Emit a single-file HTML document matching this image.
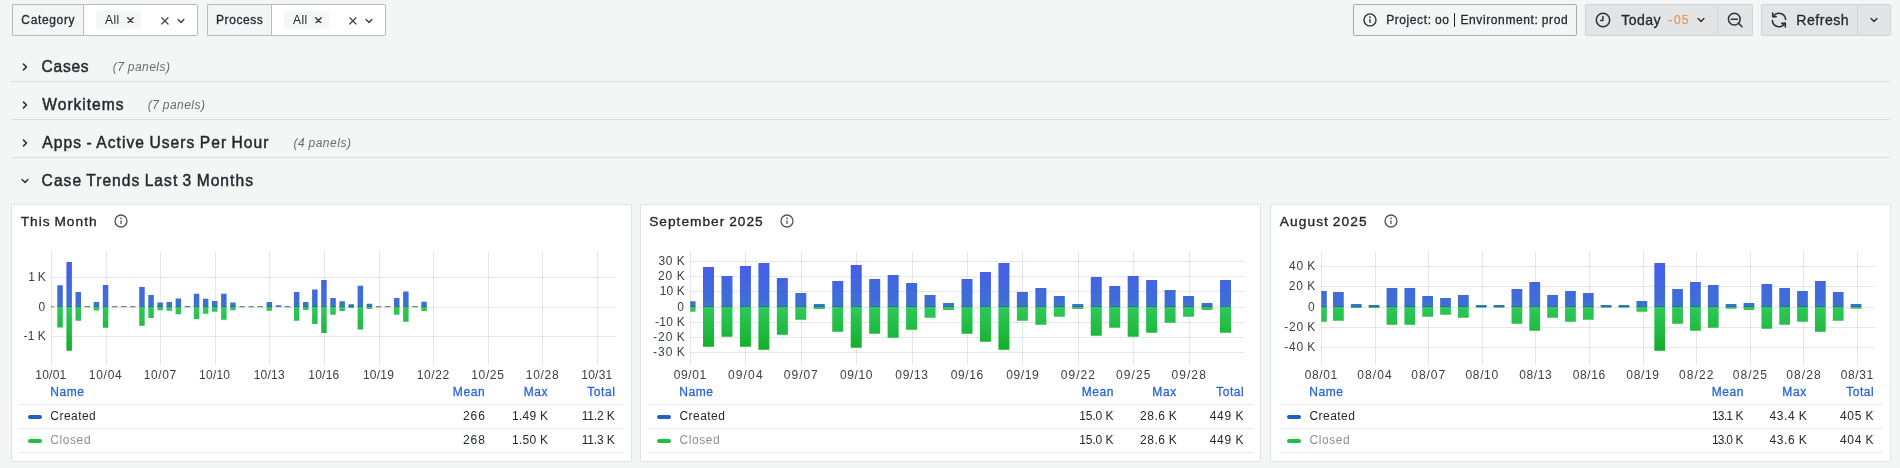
<!DOCTYPE html>
<html lang="en"><head><meta charset="utf-8"><title>Dashboard</title>
<style>
html,body{margin:0;padding:0;}
body{width:1900px;height:468px;overflow:hidden;background:#f4f5f5;font-family:"Liberation Sans",sans-serif;color:#24292e;position:relative;}
*{box-sizing:border-box;}
.abs{position:absolute;}
.box{position:absolute;top:4px;height:32px;border:1px solid #b9bbbd;border-radius:2px;background:#fff;}
.lab{position:absolute;top:4px;height:32px;border:1px solid #b9bbbd;border-right:none;border-radius:2px 0 0 2px;background:#f4f5f5;}
.pill{position:absolute;top:11px;height:18px;background:#f5f6f6;border-radius:2px;}
.btn{position:absolute;top:4px;height:32px;background:#e3e4e5;border:1px solid #d3d4d6;border-radius:2px;}
.row{position:absolute;left:11px;width:1879px;height:31px;border-bottom:1px solid #dcddde;}
.panel{position:absolute;top:204px;height:258px;background:#fff;border:1px solid #e3e4e5;border-radius:1px;}
.lline{position:absolute;height:1px;background:#e6e7e8;}
.sw{position:absolute;width:14px;height:4.4px;border-radius:2.2px;}
svg text{white-space:pre;}
</style></head><body>

<div class="lab" style="left:12px;width:72px"></div>
<div class="box" style="left:83px;width:115px;border-radius:0 2px 2px 0"></div>
<div class="pill" style="left:96px;width:45px"></div>
<svg class="abs" style="left:126.65px;top:16.55px" width="6.9" height="6.9" viewBox="0 0 10 10"><path d="M1 1L9 9M9 1L1 9" stroke="#2e3338" stroke-width="1.9" fill="none" stroke-linecap="round"/></svg>
<svg class="abs" style="left:161.1px;top:17.4px" width="7.8" height="7.8" viewBox="0 0 10 10"><path d="M1 1L9 9M9 1L1 9" stroke="#3d4247" stroke-width="1.5" fill="none" stroke-linecap="round"/></svg>
<svg class="abs" style="left:175.30px;top:15.00px" width="12" height="12" viewBox="-6 -6 12 12"><path d="M-2.90 -1.50L0 1.50L2.90 -1.50" stroke="#3d4247" stroke-width="1.35" fill="none" stroke-linecap="round" stroke-linejoin="round"/></svg>
<div class="lab" style="left:207px;width:65px"></div>
<div class="box" style="left:271px;width:115px;border-radius:0 2px 2px 0"></div>
<div class="pill" style="left:284px;width:45px"></div>
<svg class="abs" style="left:314.65px;top:16.55px" width="6.9" height="6.9" viewBox="0 0 10 10"><path d="M1 1L9 9M9 1L1 9" stroke="#2e3338" stroke-width="1.9" fill="none" stroke-linecap="round"/></svg>
<svg class="abs" style="left:349.1px;top:17.4px" width="7.8" height="7.8" viewBox="0 0 10 10"><path d="M1 1L9 9M9 1L1 9" stroke="#3d4247" stroke-width="1.5" fill="none" stroke-linecap="round"/></svg>
<svg class="abs" style="left:363.30px;top:15.00px" width="12" height="12" viewBox="-6 -6 12 12"><path d="M-2.90 -1.50L0 1.50L2.90 -1.50" stroke="#3d4247" stroke-width="1.35" fill="none" stroke-linecap="round" stroke-linejoin="round"/></svg>
<div class="box" style="left:1353px;width:224px;background:#f4f5f5;border-color:#a9abad"></div>
<svg class="abs" style="left:1362px;top:12px" viewBox="0 0 16 16" width="16" height="16"><circle cx="8" cy="7.9" r="6" fill="none" stroke="#2e3338" stroke-width="1.4"/><rect x="7.3" y="7.1" width="1.4" height="3.8" rx="0.6" fill="#2e3338"/><circle cx="8" cy="5.2" r="0.9" fill="#2e3338"/></svg>
<div class="abs" style="left:1454px;top:12.5px;width:1.3px;height:14.2px;background:#24292e"></div>
<div class="btn" style="left:1585px;width:133px;border-radius:2px 0 0 2px"></div>
<div class="btn" style="left:1717px;width:36px;border-radius:0 2px 2px 0"></div>
<svg class="abs" style="left:1594.9px;top:11.8px" viewBox="0 0 16 16" width="16" height="16"><circle cx="8" cy="8" r="6.7" fill="none" stroke="#2e3338" stroke-width="1.5"/><path d="M7.9 4.6V8.4H5.6" fill="none" stroke="#2e3338" stroke-width="1.5" stroke-linecap="round" stroke-linejoin="round"/></svg>
<svg class="abs" style="left:1695.20px;top:14.40px" width="12" height="12" viewBox="-6 -6 12 12"><path d="M-2.90 -1.50L0 1.50L2.90 -1.50" stroke="#2e3338" stroke-width="1.45" fill="none" stroke-linecap="round" stroke-linejoin="round"/></svg>
<svg class="abs" style="left:1726px;top:11px" viewBox="0 0 18 18" width="18" height="18"><circle cx="8.3" cy="8.1" r="5.9" fill="none" stroke="#2e3338" stroke-width="1.5"/><path d="M5.2 8.3H11.5M12.8 12.6L16 15.8" fill="none" stroke="#2e3338" stroke-width="1.5" stroke-linecap="round"/></svg>
<div class="btn" style="left:1761px;width:97px;border-radius:2px 0 0 2px"></div>
<div class="btn" style="left:1857px;width:34px;border-radius:0 2px 2px 0"></div>
<svg class="abs" style="left:1770px;top:11px" viewBox="0 0 18 18" width="18" height="18"><path d="M3.2 5.8A6.6 6.6 0 0 1 15.6 8.4 M14.8 12.2A6.6 6.6 0 0 1 2.4 9.6" fill="none" stroke="#2e3338" stroke-width="1.6" stroke-linecap="round"/><path d="M2.7 2.1V5.6H6.2 M15.3 15.9V12.4H11.8" fill="none" stroke="#2e3338" stroke-width="1.6" stroke-linecap="round" stroke-linejoin="round"/></svg>
<svg class="abs" style="left:1867.90px;top:13.80px" width="12" height="12" viewBox="-6 -6 12 12"><path d="M-2.90 -1.50L0 1.50L2.90 -1.50" stroke="#2e3338" stroke-width="1.45" fill="none" stroke-linecap="round" stroke-linejoin="round"/></svg>
<div class="row" style="top:51px"></div>
<svg class="abs" style="left:19.10px;top:60.90px" width="12" height="12" viewBox="-6 -6 12 12"><path d="M-1.50 -2.90L1.50 0L-1.50 2.90" stroke="#2e3338" stroke-width="1.65" fill="none" stroke-linecap="round" stroke-linejoin="round"/></svg>
<div class="row" style="top:89px"></div>
<svg class="abs" style="left:19.10px;top:98.90px" width="12" height="12" viewBox="-6 -6 12 12"><path d="M-1.50 -2.90L1.50 0L-1.50 2.90" stroke="#2e3338" stroke-width="1.65" fill="none" stroke-linecap="round" stroke-linejoin="round"/></svg>
<div class="row" style="top:127px"></div>
<svg class="abs" style="left:19.10px;top:136.90px" width="12" height="12" viewBox="-6 -6 12 12"><path d="M-1.50 -2.90L1.50 0L-1.50 2.90" stroke="#2e3338" stroke-width="1.65" fill="none" stroke-linecap="round" stroke-linejoin="round"/></svg>
<svg class="abs" style="left:19.00px;top:174.80px" width="12" height="12" viewBox="-6 -6 12 12"><path d="M-2.90 -1.50L0 1.50L2.90 -1.50" stroke="#2e3338" stroke-width="1.45" fill="none" stroke-linecap="round" stroke-linejoin="round"/></svg>
<div class="panel" style="left:11px;width:621px"></div>
<svg class="abs" style="left:113.1px;top:212.7px" viewBox="0 0 16 16" width="16" height="16"><circle cx="8" cy="8" r="6" fill="none" stroke="#50545a" stroke-width="1.3"/><rect x="7.35" y="7.2" width="1.3" height="3.8" rx="0.6" fill="#50545a"/><circle cx="8" cy="5.3" r="0.85" fill="#50545a"/></svg>
<div class="lline" style="left:20px;top:404px;width:604px"></div>
<div class="lline" style="left:20px;top:428px;width:604px"></div>
<div class="lline" style="left:20px;top:452px;width:604px"></div>
<div class="sw" style="left:28.2px;top:414.9px;background:#1f60c4"></div>
<div class="sw" style="left:28.2px;top:438.9px;background:#1fbf45"></div>
<div class="panel" style="left:640px;width:621px"></div>
<svg class="abs" style="left:779.1px;top:212.7px" viewBox="0 0 16 16" width="16" height="16"><circle cx="8" cy="8" r="6" fill="none" stroke="#50545a" stroke-width="1.3"/><rect x="7.35" y="7.2" width="1.3" height="3.8" rx="0.6" fill="#50545a"/><circle cx="8" cy="5.3" r="0.85" fill="#50545a"/></svg>
<div class="lline" style="left:648px;top:404px;width:605px"></div>
<div class="lline" style="left:648px;top:428px;width:605px"></div>
<div class="lline" style="left:648px;top:452px;width:605px"></div>
<div class="sw" style="left:657.3px;top:414.9px;background:#1f60c4"></div>
<div class="sw" style="left:657.3px;top:438.9px;background:#1fbf45"></div>
<div class="panel" style="left:1270px;width:621px"></div>
<svg class="abs" style="left:1383.2px;top:212.7px" viewBox="0 0 16 16" width="16" height="16"><circle cx="8" cy="8" r="6" fill="none" stroke="#50545a" stroke-width="1.3"/><rect x="7.35" y="7.2" width="1.3" height="3.8" rx="0.6" fill="#50545a"/><circle cx="8" cy="5.3" r="0.85" fill="#50545a"/></svg>
<div class="lline" style="left:1280px;top:404px;width:603px"></div>
<div class="lline" style="left:1280px;top:428px;width:603px"></div>
<div class="lline" style="left:1280px;top:452px;width:603px"></div>
<div class="sw" style="left:1287.3px;top:414.9px;background:#1f60c4"></div>
<div class="sw" style="left:1287.3px;top:438.9px;background:#1fbf45"></div>
<svg class="abs" style="left:0;top:0;will-change:transform" width="1900" height="468" viewBox="0 0 1900 468">
<defs><linearGradient id="gb" gradientUnits="userSpaceOnUse" x1="0" y1="258" x2="0" y2="307"><stop offset="0" stop-color="#4a59ec"/><stop offset="1" stop-color="#3c72d3"/></linearGradient><linearGradient id="gg" gradientUnits="userSpaceOnUse" x1="0" y1="307" x2="0" y2="356"><stop offset="0" stop-color="#30c85b"/><stop offset="1" stop-color="#0dab22"/></linearGradient></defs>
<line x1="51.5" y1="251.5" x2="51.5" y2="365.0" stroke="#24292e" stroke-opacity="0.115"/>
<line x1="106.5" y1="251.5" x2="106.5" y2="365.0" stroke="#24292e" stroke-opacity="0.115"/>
<line x1="160.5" y1="251.5" x2="160.5" y2="365.0" stroke="#24292e" stroke-opacity="0.115"/>
<line x1="215.5" y1="251.5" x2="215.5" y2="365.0" stroke="#24292e" stroke-opacity="0.115"/>
<line x1="269.5" y1="251.5" x2="269.5" y2="365.0" stroke="#24292e" stroke-opacity="0.115"/>
<line x1="324.5" y1="251.5" x2="324.5" y2="365.0" stroke="#24292e" stroke-opacity="0.115"/>
<line x1="379.5" y1="251.5" x2="379.5" y2="365.0" stroke="#24292e" stroke-opacity="0.115"/>
<line x1="433.5" y1="251.5" x2="433.5" y2="365.0" stroke="#24292e" stroke-opacity="0.115"/>
<line x1="488.5" y1="251.5" x2="488.5" y2="365.0" stroke="#24292e" stroke-opacity="0.115"/>
<line x1="542.5" y1="251.5" x2="542.5" y2="365.0" stroke="#24292e" stroke-opacity="0.115"/>
<line x1="597.5" y1="251.5" x2="597.5" y2="365.0" stroke="#24292e" stroke-opacity="0.115"/>
<line x1="51.00" y1="277.5" x2="616.30" y2="277.5" stroke="#24292e" stroke-opacity="0.115"/>
<line x1="51.00" y1="307.5" x2="616.30" y2="307.5" stroke="#24292e" stroke-opacity="0.115"/>
<line x1="51.00" y1="336.5" x2="616.30" y2="336.5" stroke="#24292e" stroke-opacity="0.115"/>
<clipPath id="clip1"><rect x="51.25" y="251.5" width="564.80" height="113.5"/></clipPath>
<g clip-path="url(#clip1)">
<rect x="48.20" y="306.2" width="5.5" height="1" fill="#467566"/>
<rect x="57.30" y="285.25" width="5.5" height="21.75" fill="url(#gb)"/>
<rect x="57.30" y="307.0" width="5.5" height="20.50" fill="url(#gg)"/>
<rect x="57.30" y="306.05" width="5.5" height="0.95" fill="#2a6c93" opacity="0.8"/>
<rect x="66.40" y="262.00" width="5.5" height="45.00" fill="url(#gb)"/>
<rect x="66.40" y="307.0" width="5.5" height="43.75" fill="url(#gg)"/>
<rect x="66.40" y="306.05" width="5.5" height="0.95" fill="#2a6c93" opacity="0.8"/>
<rect x="75.50" y="292.00" width="5.5" height="15.00" fill="url(#gb)"/>
<rect x="75.50" y="307.0" width="5.5" height="13.75" fill="url(#gg)"/>
<rect x="75.50" y="306.05" width="5.5" height="0.95" fill="#2a6c93" opacity="0.8"/>
<rect x="84.60" y="306.2" width="5.5" height="1" fill="#467566"/>
<rect x="93.70" y="302.00" width="5.5" height="5.00" fill="url(#gb)"/>
<rect x="93.70" y="307.0" width="5.5" height="3.50" fill="url(#gg)"/>
<rect x="93.70" y="306.05" width="5.5" height="0.95" fill="#2a6c93" opacity="0.8"/>
<rect x="102.80" y="285.00" width="5.5" height="22.00" fill="url(#gb)"/>
<rect x="102.80" y="307.0" width="5.5" height="20.75" fill="url(#gg)"/>
<rect x="102.80" y="306.05" width="5.5" height="0.95" fill="#2a6c93" opacity="0.8"/>
<rect x="111.90" y="306.2" width="5.5" height="1" fill="#467566"/>
<rect x="121.00" y="306.2" width="5.5" height="1" fill="#467566"/>
<rect x="130.10" y="306.2" width="5.5" height="1" fill="#467566"/>
<rect x="139.20" y="287.00" width="5.5" height="20.00" fill="url(#gb)"/>
<rect x="139.20" y="307.0" width="5.5" height="18.75" fill="url(#gg)"/>
<rect x="139.20" y="306.05" width="5.5" height="0.95" fill="#2a6c93" opacity="0.8"/>
<rect x="148.30" y="295.00" width="5.5" height="12.00" fill="url(#gb)"/>
<rect x="148.30" y="307.0" width="5.5" height="11.00" fill="url(#gg)"/>
<rect x="148.30" y="306.05" width="5.5" height="0.95" fill="#2a6c93" opacity="0.8"/>
<rect x="157.40" y="302.50" width="5.5" height="4.50" fill="url(#gb)"/>
<rect x="157.40" y="307.0" width="5.5" height="3.25" fill="url(#gg)"/>
<rect x="157.40" y="306.05" width="5.5" height="0.95" fill="#2a6c93" opacity="0.8"/>
<rect x="166.50" y="302.00" width="5.5" height="5.00" fill="url(#gb)"/>
<rect x="166.50" y="307.0" width="5.5" height="3.75" fill="url(#gg)"/>
<rect x="166.50" y="306.05" width="5.5" height="0.95" fill="#2a6c93" opacity="0.8"/>
<rect x="175.60" y="298.50" width="5.5" height="8.50" fill="url(#gb)"/>
<rect x="175.60" y="307.0" width="5.5" height="7.25" fill="url(#gg)"/>
<rect x="175.60" y="306.05" width="5.5" height="0.95" fill="#2a6c93" opacity="0.8"/>
<rect x="184.70" y="306.2" width="5.5" height="1" fill="#2f5fb0"/>
<rect x="193.80" y="293.75" width="5.5" height="13.25" fill="url(#gb)"/>
<rect x="193.80" y="307.0" width="5.5" height="12.00" fill="url(#gg)"/>
<rect x="193.80" y="306.05" width="5.5" height="0.95" fill="#2a6c93" opacity="0.8"/>
<rect x="202.90" y="298.75" width="5.5" height="8.25" fill="url(#gb)"/>
<rect x="202.90" y="307.0" width="5.5" height="6.75" fill="url(#gg)"/>
<rect x="202.90" y="306.05" width="5.5" height="0.95" fill="#2a6c93" opacity="0.8"/>
<rect x="212.00" y="301.00" width="5.5" height="6.00" fill="url(#gb)"/>
<rect x="212.00" y="307.0" width="5.5" height="4.75" fill="url(#gg)"/>
<rect x="212.00" y="306.05" width="5.5" height="0.95" fill="#2a6c93" opacity="0.8"/>
<rect x="221.10" y="293.75" width="5.5" height="13.25" fill="url(#gb)"/>
<rect x="221.10" y="307.0" width="5.5" height="12.75" fill="url(#gg)"/>
<rect x="221.10" y="306.05" width="5.5" height="0.95" fill="#2a6c93" opacity="0.8"/>
<rect x="230.20" y="302.50" width="5.5" height="4.50" fill="url(#gb)"/>
<rect x="230.20" y="307.0" width="5.5" height="3.25" fill="url(#gg)"/>
<rect x="230.20" y="306.05" width="5.5" height="0.95" fill="#2a6c93" opacity="0.8"/>
<rect x="239.30" y="306.2" width="5.5" height="1" fill="#467566"/>
<rect x="248.40" y="306.2" width="5.5" height="1" fill="#467566"/>
<rect x="257.50" y="306.2" width="5.5" height="1" fill="#467566"/>
<rect x="266.60" y="302.00" width="5.5" height="5.00" fill="url(#gb)"/>
<rect x="266.60" y="307.0" width="5.5" height="3.75" fill="url(#gg)"/>
<rect x="266.60" y="306.05" width="5.5" height="0.95" fill="#2a6c93" opacity="0.8"/>
<rect x="275.70" y="305.25" width="5.5" height="1.75" fill="url(#gb)"/>
<rect x="284.80" y="306.2" width="5.5" height="1" fill="#2f5fb0"/>
<rect x="293.90" y="292.00" width="5.5" height="15.00" fill="url(#gb)"/>
<rect x="293.90" y="307.0" width="5.5" height="13.75" fill="url(#gg)"/>
<rect x="293.90" y="306.05" width="5.5" height="0.95" fill="#2a6c93" opacity="0.8"/>
<rect x="303.00" y="302.00" width="5.5" height="5.00" fill="url(#gb)"/>
<rect x="303.00" y="307.0" width="5.5" height="3.00" fill="url(#gg)"/>
<rect x="303.00" y="306.05" width="5.5" height="0.95" fill="#2a6c93" opacity="0.8"/>
<rect x="312.10" y="289.50" width="5.5" height="17.50" fill="url(#gb)"/>
<rect x="312.10" y="307.0" width="5.5" height="17.00" fill="url(#gg)"/>
<rect x="312.10" y="306.05" width="5.5" height="0.95" fill="#2a6c93" opacity="0.8"/>
<rect x="321.20" y="280.00" width="5.5" height="27.00" fill="url(#gb)"/>
<rect x="321.20" y="307.0" width="5.5" height="26.00" fill="url(#gg)"/>
<rect x="321.20" y="306.05" width="5.5" height="0.95" fill="#2a6c93" opacity="0.8"/>
<rect x="330.30" y="298.00" width="5.5" height="9.00" fill="url(#gb)"/>
<rect x="330.30" y="307.0" width="5.5" height="7.75" fill="url(#gg)"/>
<rect x="330.30" y="306.05" width="5.5" height="0.95" fill="#2a6c93" opacity="0.8"/>
<rect x="339.40" y="301.25" width="5.5" height="5.75" fill="url(#gb)"/>
<rect x="339.40" y="307.0" width="5.5" height="4.00" fill="url(#gg)"/>
<rect x="339.40" y="306.05" width="5.5" height="0.95" fill="#2a6c93" opacity="0.8"/>
<rect x="348.50" y="304.25" width="5.5" height="2.75" fill="url(#gb)"/>
<rect x="348.50" y="307.0" width="5.5" height="1.00" fill="url(#gg)"/>
<rect x="348.50" y="306.05" width="5.5" height="0.95" fill="#2a6c93" opacity="0.8"/>
<rect x="357.60" y="285.75" width="5.5" height="21.25" fill="url(#gb)"/>
<rect x="357.60" y="307.0" width="5.5" height="22.50" fill="url(#gg)"/>
<rect x="357.60" y="306.05" width="5.5" height="0.95" fill="#2a6c93" opacity="0.8"/>
<rect x="366.70" y="303.75" width="5.5" height="3.25" fill="url(#gb)"/>
<rect x="366.70" y="307.0" width="5.5" height="2.00" fill="url(#gg)"/>
<rect x="366.70" y="306.05" width="5.5" height="0.95" fill="#2a6c93" opacity="0.8"/>
<rect x="375.80" y="306.2" width="5.5" height="1" fill="#467566"/>
<rect x="384.90" y="306.2" width="5.5" height="1" fill="#467566"/>
<rect x="394.00" y="298.00" width="5.5" height="9.00" fill="url(#gb)"/>
<rect x="394.00" y="307.0" width="5.5" height="7.75" fill="url(#gg)"/>
<rect x="394.00" y="306.05" width="5.5" height="0.95" fill="#2a6c93" opacity="0.8"/>
<rect x="403.10" y="291.50" width="5.5" height="15.50" fill="url(#gb)"/>
<rect x="403.10" y="307.0" width="5.5" height="14.75" fill="url(#gg)"/>
<rect x="403.10" y="306.05" width="5.5" height="0.95" fill="#2a6c93" opacity="0.8"/>
<rect x="412.20" y="306.2" width="5.5" height="1" fill="#467566"/>
<rect x="421.30" y="301.75" width="5.5" height="5.25" fill="url(#gb)"/>
<rect x="421.30" y="307.0" width="5.5" height="4.00" fill="url(#gg)"/>
<rect x="421.30" y="306.05" width="5.5" height="0.95" fill="#2a6c93" opacity="0.8"/>
</g>
<line x1="690.5" y1="251.5" x2="690.5" y2="365.0" stroke="#24292e" stroke-opacity="0.115"/>
<line x1="745.5" y1="251.5" x2="745.5" y2="365.0" stroke="#24292e" stroke-opacity="0.115"/>
<line x1="801.5" y1="251.5" x2="801.5" y2="365.0" stroke="#24292e" stroke-opacity="0.115"/>
<line x1="856.5" y1="251.5" x2="856.5" y2="365.0" stroke="#24292e" stroke-opacity="0.115"/>
<line x1="912.5" y1="251.5" x2="912.5" y2="365.0" stroke="#24292e" stroke-opacity="0.115"/>
<line x1="967.5" y1="251.5" x2="967.5" y2="365.0" stroke="#24292e" stroke-opacity="0.115"/>
<line x1="1022.5" y1="251.5" x2="1022.5" y2="365.0" stroke="#24292e" stroke-opacity="0.115"/>
<line x1="1078.5" y1="251.5" x2="1078.5" y2="365.0" stroke="#24292e" stroke-opacity="0.115"/>
<line x1="1133.5" y1="251.5" x2="1133.5" y2="365.0" stroke="#24292e" stroke-opacity="0.115"/>
<line x1="1189.5" y1="251.5" x2="1189.5" y2="365.0" stroke="#24292e" stroke-opacity="0.115"/>
<line x1="690.00" y1="261.5" x2="1244.00" y2="261.5" stroke="#24292e" stroke-opacity="0.115"/>
<line x1="690.00" y1="276.5" x2="1244.00" y2="276.5" stroke="#24292e" stroke-opacity="0.115"/>
<line x1="690.00" y1="291.5" x2="1244.00" y2="291.5" stroke="#24292e" stroke-opacity="0.115"/>
<line x1="690.00" y1="307.5" x2="1244.00" y2="307.5" stroke="#24292e" stroke-opacity="0.115"/>
<line x1="690.00" y1="322.5" x2="1244.00" y2="322.5" stroke="#24292e" stroke-opacity="0.115"/>
<line x1="690.00" y1="337.5" x2="1244.00" y2="337.5" stroke="#24292e" stroke-opacity="0.115"/>
<line x1="690.00" y1="352.5" x2="1244.00" y2="352.5" stroke="#24292e" stroke-opacity="0.115"/>
<clipPath id="clip2"><rect x="690.25" y="251.5" width="553.50" height="113.5"/></clipPath>
<g clip-path="url(#clip2)">
<rect x="684.54" y="301.25" width="11.0" height="5.75" fill="url(#gb)"/>
<rect x="684.54" y="307.0" width="11.0" height="4.75" fill="url(#gg)"/>
<rect x="684.54" y="306.05" width="11.0" height="0.95" fill="#2a6c93" opacity="0.8"/>
<rect x="703.00" y="267.00" width="11.0" height="40.00" fill="url(#gb)"/>
<rect x="703.00" y="307.0" width="11.0" height="39.75" fill="url(#gg)"/>
<rect x="703.00" y="306.05" width="11.0" height="0.95" fill="#2a6c93" opacity="0.8"/>
<rect x="721.47" y="276.00" width="11.0" height="31.00" fill="url(#gb)"/>
<rect x="721.47" y="307.0" width="11.0" height="29.75" fill="url(#gg)"/>
<rect x="721.47" y="306.05" width="11.0" height="0.95" fill="#2a6c93" opacity="0.8"/>
<rect x="739.93" y="266.00" width="11.0" height="41.00" fill="url(#gb)"/>
<rect x="739.93" y="307.0" width="11.0" height="39.75" fill="url(#gg)"/>
<rect x="739.93" y="306.05" width="11.0" height="0.95" fill="#2a6c93" opacity="0.8"/>
<rect x="758.40" y="263.00" width="11.0" height="44.00" fill="url(#gb)"/>
<rect x="758.40" y="307.0" width="11.0" height="42.75" fill="url(#gg)"/>
<rect x="758.40" y="306.05" width="11.0" height="0.95" fill="#2a6c93" opacity="0.8"/>
<rect x="776.86" y="278.00" width="11.0" height="29.00" fill="url(#gb)"/>
<rect x="776.86" y="307.0" width="11.0" height="27.75" fill="url(#gg)"/>
<rect x="776.86" y="306.05" width="11.0" height="0.95" fill="#2a6c93" opacity="0.8"/>
<rect x="795.32" y="293.00" width="11.0" height="14.00" fill="url(#gb)"/>
<rect x="795.32" y="307.0" width="11.0" height="12.75" fill="url(#gg)"/>
<rect x="795.32" y="306.05" width="11.0" height="0.95" fill="#2a6c93" opacity="0.8"/>
<rect x="813.79" y="304.00" width="11.0" height="3.00" fill="url(#gb)"/>
<rect x="813.79" y="307.0" width="11.0" height="2.00" fill="url(#gg)"/>
<rect x="813.79" y="306.05" width="11.0" height="0.95" fill="#2a6c93" opacity="0.8"/>
<rect x="832.25" y="281.00" width="11.0" height="26.00" fill="url(#gb)"/>
<rect x="832.25" y="307.0" width="11.0" height="24.75" fill="url(#gg)"/>
<rect x="832.25" y="306.05" width="11.0" height="0.95" fill="#2a6c93" opacity="0.8"/>
<rect x="850.72" y="265.00" width="11.0" height="42.00" fill="url(#gb)"/>
<rect x="850.72" y="307.0" width="11.0" height="40.75" fill="url(#gg)"/>
<rect x="850.72" y="306.05" width="11.0" height="0.95" fill="#2a6c93" opacity="0.8"/>
<rect x="869.18" y="279.00" width="11.0" height="28.00" fill="url(#gb)"/>
<rect x="869.18" y="307.0" width="11.0" height="26.75" fill="url(#gg)"/>
<rect x="869.18" y="306.05" width="11.0" height="0.95" fill="#2a6c93" opacity="0.8"/>
<rect x="887.64" y="275.00" width="11.0" height="32.00" fill="url(#gb)"/>
<rect x="887.64" y="307.0" width="11.0" height="30.75" fill="url(#gg)"/>
<rect x="887.64" y="306.05" width="11.0" height="0.95" fill="#2a6c93" opacity="0.8"/>
<rect x="906.11" y="283.00" width="11.0" height="24.00" fill="url(#gb)"/>
<rect x="906.11" y="307.0" width="11.0" height="22.75" fill="url(#gg)"/>
<rect x="906.11" y="306.05" width="11.0" height="0.95" fill="#2a6c93" opacity="0.8"/>
<rect x="924.57" y="295.00" width="11.0" height="12.00" fill="url(#gb)"/>
<rect x="924.57" y="307.0" width="11.0" height="10.75" fill="url(#gg)"/>
<rect x="924.57" y="306.05" width="11.0" height="0.95" fill="#2a6c93" opacity="0.8"/>
<rect x="943.04" y="303.00" width="11.0" height="4.00" fill="url(#gb)"/>
<rect x="943.04" y="307.0" width="11.0" height="3.00" fill="url(#gg)"/>
<rect x="943.04" y="306.05" width="11.0" height="0.95" fill="#2a6c93" opacity="0.8"/>
<rect x="961.50" y="279.00" width="11.0" height="28.00" fill="url(#gb)"/>
<rect x="961.50" y="307.0" width="11.0" height="26.75" fill="url(#gg)"/>
<rect x="961.50" y="306.05" width="11.0" height="0.95" fill="#2a6c93" opacity="0.8"/>
<rect x="979.96" y="272.00" width="11.0" height="35.00" fill="url(#gb)"/>
<rect x="979.96" y="307.0" width="11.0" height="34.75" fill="url(#gg)"/>
<rect x="979.96" y="306.05" width="11.0" height="0.95" fill="#2a6c93" opacity="0.8"/>
<rect x="998.43" y="263.00" width="11.0" height="44.00" fill="url(#gb)"/>
<rect x="998.43" y="307.0" width="11.0" height="42.75" fill="url(#gg)"/>
<rect x="998.43" y="306.05" width="11.0" height="0.95" fill="#2a6c93" opacity="0.8"/>
<rect x="1016.89" y="292.00" width="11.0" height="15.00" fill="url(#gb)"/>
<rect x="1016.89" y="307.0" width="11.0" height="13.75" fill="url(#gg)"/>
<rect x="1016.89" y="306.05" width="11.0" height="0.95" fill="#2a6c93" opacity="0.8"/>
<rect x="1035.36" y="288.00" width="11.0" height="19.00" fill="url(#gb)"/>
<rect x="1035.36" y="307.0" width="11.0" height="17.75" fill="url(#gg)"/>
<rect x="1035.36" y="306.05" width="11.0" height="0.95" fill="#2a6c93" opacity="0.8"/>
<rect x="1053.82" y="296.00" width="11.0" height="11.00" fill="url(#gb)"/>
<rect x="1053.82" y="307.0" width="11.0" height="9.75" fill="url(#gg)"/>
<rect x="1053.82" y="306.05" width="11.0" height="0.95" fill="#2a6c93" opacity="0.8"/>
<rect x="1072.28" y="304.00" width="11.0" height="3.00" fill="url(#gb)"/>
<rect x="1072.28" y="307.0" width="11.0" height="2.00" fill="url(#gg)"/>
<rect x="1072.28" y="306.05" width="11.0" height="0.95" fill="#2a6c93" opacity="0.8"/>
<rect x="1090.75" y="277.00" width="11.0" height="30.00" fill="url(#gb)"/>
<rect x="1090.75" y="307.0" width="11.0" height="28.75" fill="url(#gg)"/>
<rect x="1090.75" y="306.05" width="11.0" height="0.95" fill="#2a6c93" opacity="0.8"/>
<rect x="1109.21" y="286.00" width="11.0" height="21.00" fill="url(#gb)"/>
<rect x="1109.21" y="307.0" width="11.0" height="20.75" fill="url(#gg)"/>
<rect x="1109.21" y="306.05" width="11.0" height="0.95" fill="#2a6c93" opacity="0.8"/>
<rect x="1127.68" y="276.00" width="11.0" height="31.00" fill="url(#gb)"/>
<rect x="1127.68" y="307.0" width="11.0" height="29.75" fill="url(#gg)"/>
<rect x="1127.68" y="306.05" width="11.0" height="0.95" fill="#2a6c93" opacity="0.8"/>
<rect x="1146.14" y="280.00" width="11.0" height="27.00" fill="url(#gb)"/>
<rect x="1146.14" y="307.0" width="11.0" height="25.75" fill="url(#gg)"/>
<rect x="1146.14" y="306.05" width="11.0" height="0.95" fill="#2a6c93" opacity="0.8"/>
<rect x="1164.60" y="290.00" width="11.0" height="17.00" fill="url(#gb)"/>
<rect x="1164.60" y="307.0" width="11.0" height="15.75" fill="url(#gg)"/>
<rect x="1164.60" y="306.05" width="11.0" height="0.95" fill="#2a6c93" opacity="0.8"/>
<rect x="1183.07" y="296.00" width="11.0" height="11.00" fill="url(#gb)"/>
<rect x="1183.07" y="307.0" width="11.0" height="9.75" fill="url(#gg)"/>
<rect x="1183.07" y="306.05" width="11.0" height="0.95" fill="#2a6c93" opacity="0.8"/>
<rect x="1201.53" y="303.00" width="11.0" height="4.00" fill="url(#gb)"/>
<rect x="1201.53" y="307.0" width="11.0" height="3.00" fill="url(#gg)"/>
<rect x="1201.53" y="306.05" width="11.0" height="0.95" fill="#2a6c93" opacity="0.8"/>
<rect x="1220.00" y="280.00" width="11.0" height="27.00" fill="url(#gb)"/>
<rect x="1220.00" y="307.0" width="11.0" height="25.75" fill="url(#gg)"/>
<rect x="1220.00" y="306.05" width="11.0" height="0.95" fill="#2a6c93" opacity="0.8"/>
</g>
<line x1="1321.5" y1="251.5" x2="1321.5" y2="365.0" stroke="#24292e" stroke-opacity="0.115"/>
<line x1="1375.5" y1="251.5" x2="1375.5" y2="365.0" stroke="#24292e" stroke-opacity="0.115"/>
<line x1="1428.5" y1="251.5" x2="1428.5" y2="365.0" stroke="#24292e" stroke-opacity="0.115"/>
<line x1="1482.5" y1="251.5" x2="1482.5" y2="365.0" stroke="#24292e" stroke-opacity="0.115"/>
<line x1="1535.5" y1="251.5" x2="1535.5" y2="365.0" stroke="#24292e" stroke-opacity="0.115"/>
<line x1="1589.5" y1="251.5" x2="1589.5" y2="365.0" stroke="#24292e" stroke-opacity="0.115"/>
<line x1="1643.5" y1="251.5" x2="1643.5" y2="365.0" stroke="#24292e" stroke-opacity="0.115"/>
<line x1="1696.5" y1="251.5" x2="1696.5" y2="365.0" stroke="#24292e" stroke-opacity="0.115"/>
<line x1="1750.5" y1="251.5" x2="1750.5" y2="365.0" stroke="#24292e" stroke-opacity="0.115"/>
<line x1="1803.5" y1="251.5" x2="1803.5" y2="365.0" stroke="#24292e" stroke-opacity="0.115"/>
<line x1="1857.5" y1="251.5" x2="1857.5" y2="365.0" stroke="#24292e" stroke-opacity="0.115"/>
<line x1="1321.00" y1="266.5" x2="1875.20" y2="266.5" stroke="#24292e" stroke-opacity="0.115"/>
<line x1="1321.00" y1="286.5" x2="1875.20" y2="286.5" stroke="#24292e" stroke-opacity="0.115"/>
<line x1="1321.00" y1="307.5" x2="1875.20" y2="307.5" stroke="#24292e" stroke-opacity="0.115"/>
<line x1="1321.00" y1="327.5" x2="1875.20" y2="327.5" stroke="#24292e" stroke-opacity="0.115"/>
<line x1="1321.00" y1="347.5" x2="1875.20" y2="347.5" stroke="#24292e" stroke-opacity="0.115"/>
<clipPath id="clip3"><rect x="1321.25" y="251.5" width="553.70" height="113.5"/></clipPath>
<g clip-path="url(#clip3)">
<rect x="1316.03" y="291.00" width="10.75" height="16.00" fill="url(#gb)"/>
<rect x="1316.03" y="307.0" width="10.75" height="14.75" fill="url(#gg)"/>
<rect x="1316.03" y="306.05" width="10.75" height="0.95" fill="#2a6c93" opacity="0.8"/>
<rect x="1333.02" y="292.00" width="10.75" height="15.00" fill="url(#gb)"/>
<rect x="1333.02" y="307.0" width="10.75" height="13.75" fill="url(#gg)"/>
<rect x="1333.02" y="306.05" width="10.75" height="0.95" fill="#2a6c93" opacity="0.8"/>
<rect x="1350.88" y="304.00" width="10.75" height="3.00" fill="url(#gb)"/>
<rect x="1350.88" y="307.0" width="10.75" height="1.00" fill="url(#gg)"/>
<rect x="1350.88" y="306.05" width="10.75" height="0.95" fill="#2a6c93" opacity="0.8"/>
<rect x="1368.72" y="305.00" width="10.75" height="2.00" fill="url(#gb)"/>
<rect x="1368.72" y="307.0" width="10.75" height="1.00" fill="url(#gg)"/>
<rect x="1368.72" y="306.05" width="10.75" height="0.95" fill="#2a6c93" opacity="0.8"/>
<rect x="1386.58" y="288.00" width="10.75" height="19.00" fill="url(#gb)"/>
<rect x="1386.58" y="307.0" width="10.75" height="17.75" fill="url(#gg)"/>
<rect x="1386.58" y="306.05" width="10.75" height="0.95" fill="#2a6c93" opacity="0.8"/>
<rect x="1404.42" y="288.00" width="10.75" height="19.00" fill="url(#gb)"/>
<rect x="1404.42" y="307.0" width="10.75" height="17.75" fill="url(#gg)"/>
<rect x="1404.42" y="306.05" width="10.75" height="0.95" fill="#2a6c93" opacity="0.8"/>
<rect x="1422.27" y="296.00" width="10.75" height="11.00" fill="url(#gb)"/>
<rect x="1422.27" y="307.0" width="10.75" height="9.75" fill="url(#gg)"/>
<rect x="1422.27" y="306.05" width="10.75" height="0.95" fill="#2a6c93" opacity="0.8"/>
<rect x="1440.12" y="298.00" width="10.75" height="9.00" fill="url(#gb)"/>
<rect x="1440.12" y="307.0" width="10.75" height="7.75" fill="url(#gg)"/>
<rect x="1440.12" y="306.05" width="10.75" height="0.95" fill="#2a6c93" opacity="0.8"/>
<rect x="1457.97" y="295.00" width="10.75" height="12.00" fill="url(#gb)"/>
<rect x="1457.97" y="307.0" width="10.75" height="10.75" fill="url(#gg)"/>
<rect x="1457.97" y="306.05" width="10.75" height="0.95" fill="#2a6c93" opacity="0.8"/>
<rect x="1475.83" y="305.00" width="10.75" height="2.00" fill="url(#gb)"/>
<rect x="1475.83" y="307.0" width="10.75" height="0.75" fill="url(#gg)"/>
<rect x="1475.83" y="306.05" width="10.75" height="0.95" fill="#2a6c93" opacity="0.8"/>
<rect x="1493.67" y="305.00" width="10.75" height="2.00" fill="url(#gb)"/>
<rect x="1493.67" y="307.0" width="10.75" height="0.75" fill="url(#gg)"/>
<rect x="1493.67" y="306.05" width="10.75" height="0.95" fill="#2a6c93" opacity="0.8"/>
<rect x="1511.53" y="289.00" width="10.75" height="18.00" fill="url(#gb)"/>
<rect x="1511.53" y="307.0" width="10.75" height="16.75" fill="url(#gg)"/>
<rect x="1511.53" y="306.05" width="10.75" height="0.95" fill="#2a6c93" opacity="0.8"/>
<rect x="1529.38" y="282.00" width="10.75" height="25.00" fill="url(#gb)"/>
<rect x="1529.38" y="307.0" width="10.75" height="23.75" fill="url(#gg)"/>
<rect x="1529.38" y="306.05" width="10.75" height="0.95" fill="#2a6c93" opacity="0.8"/>
<rect x="1547.22" y="295.00" width="10.75" height="12.00" fill="url(#gb)"/>
<rect x="1547.22" y="307.0" width="10.75" height="10.75" fill="url(#gg)"/>
<rect x="1547.22" y="306.05" width="10.75" height="0.95" fill="#2a6c93" opacity="0.8"/>
<rect x="1565.08" y="291.00" width="10.75" height="16.00" fill="url(#gb)"/>
<rect x="1565.08" y="307.0" width="10.75" height="14.75" fill="url(#gg)"/>
<rect x="1565.08" y="306.05" width="10.75" height="0.95" fill="#2a6c93" opacity="0.8"/>
<rect x="1582.92" y="293.00" width="10.75" height="14.00" fill="url(#gb)"/>
<rect x="1582.92" y="307.0" width="10.75" height="12.75" fill="url(#gg)"/>
<rect x="1582.92" y="306.05" width="10.75" height="0.95" fill="#2a6c93" opacity="0.8"/>
<rect x="1600.78" y="305.00" width="10.75" height="2.00" fill="url(#gb)"/>
<rect x="1600.78" y="307.0" width="10.75" height="0.75" fill="url(#gg)"/>
<rect x="1600.78" y="306.05" width="10.75" height="0.95" fill="#2a6c93" opacity="0.8"/>
<rect x="1618.62" y="305.00" width="10.75" height="2.00" fill="url(#gb)"/>
<rect x="1618.62" y="307.0" width="10.75" height="0.75" fill="url(#gg)"/>
<rect x="1618.62" y="306.05" width="10.75" height="0.95" fill="#2a6c93" opacity="0.8"/>
<rect x="1636.47" y="301.00" width="10.75" height="6.00" fill="url(#gb)"/>
<rect x="1636.47" y="307.0" width="10.75" height="4.75" fill="url(#gg)"/>
<rect x="1636.47" y="306.05" width="10.75" height="0.95" fill="#2a6c93" opacity="0.8"/>
<rect x="1654.33" y="263.00" width="10.75" height="44.00" fill="url(#gb)"/>
<rect x="1654.33" y="307.0" width="10.75" height="43.75" fill="url(#gg)"/>
<rect x="1654.33" y="306.05" width="10.75" height="0.95" fill="#2a6c93" opacity="0.8"/>
<rect x="1672.17" y="289.00" width="10.75" height="18.00" fill="url(#gb)"/>
<rect x="1672.17" y="307.0" width="10.75" height="16.75" fill="url(#gg)"/>
<rect x="1672.17" y="306.05" width="10.75" height="0.95" fill="#2a6c93" opacity="0.8"/>
<rect x="1690.03" y="282.00" width="10.75" height="25.00" fill="url(#gb)"/>
<rect x="1690.03" y="307.0" width="10.75" height="23.75" fill="url(#gg)"/>
<rect x="1690.03" y="306.05" width="10.75" height="0.95" fill="#2a6c93" opacity="0.8"/>
<rect x="1707.88" y="285.00" width="10.75" height="22.00" fill="url(#gb)"/>
<rect x="1707.88" y="307.0" width="10.75" height="20.75" fill="url(#gg)"/>
<rect x="1707.88" y="306.05" width="10.75" height="0.95" fill="#2a6c93" opacity="0.8"/>
<rect x="1725.72" y="304.00" width="10.75" height="3.00" fill="url(#gb)"/>
<rect x="1725.72" y="307.0" width="10.75" height="1.75" fill="url(#gg)"/>
<rect x="1725.72" y="306.05" width="10.75" height="0.95" fill="#2a6c93" opacity="0.8"/>
<rect x="1743.58" y="303.00" width="10.75" height="4.00" fill="url(#gb)"/>
<rect x="1743.58" y="307.0" width="10.75" height="3.00" fill="url(#gg)"/>
<rect x="1743.58" y="306.05" width="10.75" height="0.95" fill="#2a6c93" opacity="0.8"/>
<rect x="1761.42" y="284.00" width="10.75" height="23.00" fill="url(#gb)"/>
<rect x="1761.42" y="307.0" width="10.75" height="21.75" fill="url(#gg)"/>
<rect x="1761.42" y="306.05" width="10.75" height="0.95" fill="#2a6c93" opacity="0.8"/>
<rect x="1779.28" y="288.00" width="10.75" height="19.00" fill="url(#gb)"/>
<rect x="1779.28" y="307.0" width="10.75" height="17.75" fill="url(#gg)"/>
<rect x="1779.28" y="306.05" width="10.75" height="0.95" fill="#2a6c93" opacity="0.8"/>
<rect x="1797.12" y="291.00" width="10.75" height="16.00" fill="url(#gb)"/>
<rect x="1797.12" y="307.0" width="10.75" height="14.75" fill="url(#gg)"/>
<rect x="1797.12" y="306.05" width="10.75" height="0.95" fill="#2a6c93" opacity="0.8"/>
<rect x="1814.97" y="281.00" width="10.75" height="26.00" fill="url(#gb)"/>
<rect x="1814.97" y="307.0" width="10.75" height="24.75" fill="url(#gg)"/>
<rect x="1814.97" y="306.05" width="10.75" height="0.95" fill="#2a6c93" opacity="0.8"/>
<rect x="1832.83" y="292.00" width="10.75" height="15.00" fill="url(#gb)"/>
<rect x="1832.83" y="307.0" width="10.75" height="13.75" fill="url(#gg)"/>
<rect x="1832.83" y="306.05" width="10.75" height="0.95" fill="#2a6c93" opacity="0.8"/>
<rect x="1850.67" y="304.00" width="10.75" height="3.00" fill="url(#gb)"/>
<rect x="1850.67" y="307.0" width="10.75" height="1.75" fill="url(#gg)"/>
<rect x="1850.67" y="306.05" width="10.75" height="0.95" fill="#2a6c93" opacity="0.8"/>
</g>
<text x="21.35" y="23.90" style="font-family:'Liberation Sans',sans-serif;font-size:12px;letter-spacing:0.643px;" fill="#24292e" stroke="#24292e" stroke-width="0.3">Category</text>
<text x="105.10" y="23.90" style="font-family:'Liberation Sans',sans-serif;font-size:12px;letter-spacing:0.350px;" fill="#24292e">All</text>
<text x="216.05" y="23.90" style="font-family:'Liberation Sans',sans-serif;font-size:12px;letter-spacing:0.558px;" fill="#24292e" stroke="#24292e" stroke-width="0.3">Process</text>
<text x="293.10" y="23.90" style="font-family:'Liberation Sans',sans-serif;font-size:12px;letter-spacing:0.400px;" fill="#24292e">All</text>
<text x="1386.15" y="23.90" style="font-family:'Liberation Sans',sans-serif;font-size:12px;letter-spacing:0.594px;word-spacing:-0.594px;" fill="#24292e" stroke="#24292e" stroke-width="0.28">Project: oo</text>
<text x="1460.45" y="23.90" style="font-family:'Liberation Sans',sans-serif;font-size:12px;letter-spacing:0.610px;word-spacing:-0.610px;" fill="#24292e" stroke="#24292e" stroke-width="0.28">Environment: prod</text>
<text x="1621.25" y="24.80" style="font-family:'Liberation Sans',sans-serif;font-size:14.1px;letter-spacing:0.425px;" fill="#24292e" stroke="#24292e" stroke-width="0.3">Today</text>
<text x="1668.20" y="23.90" style="font-family:'Liberation Sans',sans-serif;font-size:12px;" fill="#ef934b" stroke="#ef934b" stroke-width="0.2">-</text>
<text x="1673.95" y="23.90" style="font-family:'Liberation Sans',sans-serif;font-size:12px;letter-spacing:1.050px;" fill="#ef934b" stroke="#ef934b" stroke-width="0.2">05</text>
<text x="1796.20" y="24.80" style="font-family:'Liberation Sans',sans-serif;font-size:14.1px;letter-spacing:0.517px;" fill="#24292e" stroke="#24292e" stroke-width="0.3">Refresh</text>
<text x="41.60" y="71.60" style="font-family:'Liberation Sans',sans-serif;font-size:15.6px;letter-spacing:0.688px;" fill="#24292e" stroke="#24292e" stroke-width="0.45">Cases</text>
<text x="112.80" y="71.40" style="font-family:'Liberation Sans',sans-serif;font-size:12px;font-style:italic;letter-spacing:0.469px;word-spacing:-0.469px;" fill="#686c71">(7 panels)</text>
<text x="42.35" y="109.60" style="font-family:'Liberation Sans',sans-serif;font-size:15.6px;letter-spacing:0.969px;" fill="#24292e" stroke="#24292e" stroke-width="0.45">Workitems</text>
<text x="147.80" y="109.40" style="font-family:'Liberation Sans',sans-serif;font-size:12px;font-style:italic;letter-spacing:0.469px;word-spacing:-0.469px;" fill="#686c71">(7 panels)</text>
<text x="42.35" y="147.60" style="font-family:'Liberation Sans',sans-serif;font-size:15.6px;letter-spacing:1.064px;word-spacing:-1.064px;" fill="#24292e" stroke="#24292e" stroke-width="0.45">Apps - Active Users Per Hour</text>
<text x="293.40" y="147.40" style="font-family:'Liberation Sans',sans-serif;font-size:12px;font-style:italic;letter-spacing:0.519px;word-spacing:-0.519px;" fill="#686c71">(4 panels)</text>
<text x="41.60" y="185.60" style="font-family:'Liberation Sans',sans-serif;font-size:15.6px;letter-spacing:1.033px;word-spacing:-1.033px;" fill="#24292e" stroke="#24292e" stroke-width="0.45">Case Trends Last 3 Months</text>
<text x="20.65" y="226.00" style="font-family:'Liberation Sans',sans-serif;font-size:13.7px;letter-spacing:1.031px;word-spacing:-1.031px;" fill="#24292e" stroke="#24292e" stroke-width="0.35">This Month</text>
<text x="50.25" y="395.80" style="font-family:'Liberation Sans',sans-serif;font-size:12px;letter-spacing:0.550px;" fill="#2864dc" stroke="#2864dc" stroke-width="0.28">Name</text>
<text x="452.85" y="395.80" style="font-family:'Liberation Sans',sans-serif;font-size:12px;letter-spacing:0.617px;" fill="#2864dc" stroke="#2864dc" stroke-width="0.28">Mean</text>
<text x="523.65" y="395.80" style="font-family:'Liberation Sans',sans-serif;font-size:12px;letter-spacing:0.600px;" fill="#2864dc" stroke="#2864dc" stroke-width="0.28">Max</text>
<text x="587.35" y="395.80" style="font-family:'Liberation Sans',sans-serif;font-size:12px;letter-spacing:0.525px;" fill="#2864dc" stroke="#2864dc" stroke-width="0.28">Total</text>
<text x="50.30" y="419.60" style="font-family:'Liberation Sans',sans-serif;font-size:12px;letter-spacing:0.467px;" fill="#24292e">Created</text>
<text x="462.90" y="419.60" style="font-family:'Liberation Sans',sans-serif;font-size:12px;letter-spacing:1.000px;" fill="#24292e">266</text>
<text x="511.90" y="419.60" style="font-family:'Liberation Sans',sans-serif;font-size:12px;letter-spacing:0.350px;word-spacing:-0.350px;" fill="#24292e">1.49 K</text>
<text x="581.80" y="419.60" style="font-family:'Liberation Sans',sans-serif;font-size:12px;letter-spacing:-0.225px;word-spacing:0.225px;" fill="#24292e">11.2 K</text>
<text x="50.30" y="443.60" style="font-family:'Liberation Sans',sans-serif;font-size:12px;letter-spacing:0.580px;" fill="#8d8f92">Closed</text>
<text x="462.90" y="443.60" style="font-family:'Liberation Sans',sans-serif;font-size:12px;letter-spacing:1.000px;" fill="#24292e">268</text>
<text x="511.90" y="443.60" style="font-family:'Liberation Sans',sans-serif;font-size:12px;letter-spacing:0.350px;word-spacing:-0.350px;" fill="#24292e">1.50 K</text>
<text x="581.80" y="443.60" style="font-family:'Liberation Sans',sans-serif;font-size:12px;letter-spacing:-0.225px;word-spacing:0.225px;" fill="#24292e">11.3 K</text>
<text x="649.20" y="226.00" style="font-family:'Liberation Sans',sans-serif;font-size:13.7px;letter-spacing:1.021px;word-spacing:-1.021px;" fill="#24292e" stroke="#24292e" stroke-width="0.35">September 2025</text>
<text x="679.35" y="395.80" style="font-family:'Liberation Sans',sans-serif;font-size:12px;letter-spacing:0.550px;" fill="#2864dc" stroke="#2864dc" stroke-width="0.28">Name</text>
<text x="1081.65" y="395.80" style="font-family:'Liberation Sans',sans-serif;font-size:12px;letter-spacing:0.617px;" fill="#2864dc" stroke="#2864dc" stroke-width="0.28">Mean</text>
<text x="1152.35" y="395.80" style="font-family:'Liberation Sans',sans-serif;font-size:12px;letter-spacing:0.600px;" fill="#2864dc" stroke="#2864dc" stroke-width="0.28">Max</text>
<text x="1216.25" y="395.80" style="font-family:'Liberation Sans',sans-serif;font-size:12px;letter-spacing:0.525px;" fill="#2864dc" stroke="#2864dc" stroke-width="0.28">Total</text>
<text x="679.40" y="419.60" style="font-family:'Liberation Sans',sans-serif;font-size:12px;letter-spacing:0.467px;" fill="#24292e">Created</text>
<text x="1079.20" y="419.60" style="font-family:'Liberation Sans',sans-serif;font-size:12px;letter-spacing:-0.125px;word-spacing:0.125px;" fill="#24292e">15.0 K</text>
<text x="1140.10" y="419.60" style="font-family:'Liberation Sans',sans-serif;font-size:12px;letter-spacing:0.475px;word-spacing:-0.475px;" fill="#24292e">28.6 K</text>
<text x="1209.65" y="419.60" style="font-family:'Liberation Sans',sans-serif;font-size:12px;letter-spacing:0.800px;word-spacing:-0.800px;" fill="#24292e">449 K</text>
<text x="679.40" y="443.60" style="font-family:'Liberation Sans',sans-serif;font-size:12px;letter-spacing:0.580px;" fill="#8d8f92">Closed</text>
<text x="1079.20" y="443.60" style="font-family:'Liberation Sans',sans-serif;font-size:12px;letter-spacing:-0.125px;word-spacing:0.125px;" fill="#24292e">15.0 K</text>
<text x="1140.10" y="443.60" style="font-family:'Liberation Sans',sans-serif;font-size:12px;letter-spacing:0.475px;word-spacing:-0.475px;" fill="#24292e">28.6 K</text>
<text x="1209.65" y="443.60" style="font-family:'Liberation Sans',sans-serif;font-size:12px;letter-spacing:0.800px;word-spacing:-0.800px;" fill="#24292e">449 K</text>
<text x="1279.85" y="226.00" style="font-family:'Liberation Sans',sans-serif;font-size:13.7px;letter-spacing:1.094px;word-spacing:-1.094px;" fill="#24292e" stroke="#24292e" stroke-width="0.35">August 2025</text>
<text x="1309.35" y="395.80" style="font-family:'Liberation Sans',sans-serif;font-size:12px;letter-spacing:0.550px;" fill="#2864dc" stroke="#2864dc" stroke-width="0.28">Name</text>
<text x="1711.65" y="395.80" style="font-family:'Liberation Sans',sans-serif;font-size:12px;letter-spacing:0.617px;" fill="#2864dc" stroke="#2864dc" stroke-width="0.28">Mean</text>
<text x="1782.35" y="395.80" style="font-family:'Liberation Sans',sans-serif;font-size:12px;letter-spacing:0.600px;" fill="#2864dc" stroke="#2864dc" stroke-width="0.28">Max</text>
<text x="1846.25" y="395.80" style="font-family:'Liberation Sans',sans-serif;font-size:12px;letter-spacing:0.525px;" fill="#2864dc" stroke="#2864dc" stroke-width="0.28">Total</text>
<text x="1309.40" y="419.60" style="font-family:'Liberation Sans',sans-serif;font-size:12px;letter-spacing:0.467px;" fill="#24292e">Created</text>
<text x="1712.00" y="419.60" style="font-family:'Liberation Sans',sans-serif;font-size:12px;letter-spacing:-0.825px;word-spacing:0.825px;" fill="#24292e">13.1 K</text>
<text x="1769.45" y="419.60" style="font-family:'Liberation Sans',sans-serif;font-size:12px;letter-spacing:0.638px;word-spacing:-0.638px;" fill="#24292e">43.4 K</text>
<text x="1839.95" y="419.60" style="font-family:'Liberation Sans',sans-serif;font-size:12px;letter-spacing:0.700px;word-spacing:-0.700px;" fill="#24292e">405 K</text>
<text x="1309.40" y="443.60" style="font-family:'Liberation Sans',sans-serif;font-size:12px;letter-spacing:0.580px;" fill="#8d8f92">Closed</text>
<text x="1712.00" y="443.60" style="font-family:'Liberation Sans',sans-serif;font-size:12px;letter-spacing:-0.825px;word-spacing:0.825px;" fill="#24292e">13.0 K</text>
<text x="1769.45" y="443.60" style="font-family:'Liberation Sans',sans-serif;font-size:12px;letter-spacing:0.638px;word-spacing:-0.638px;" fill="#24292e">43.6 K</text>
<text x="1839.95" y="443.60" style="font-family:'Liberation Sans',sans-serif;font-size:12px;letter-spacing:0.700px;word-spacing:-0.700px;" fill="#24292e">404 K</text>
<text x="28.30" y="281.40" style="font-family:'Liberation Sans',sans-serif;font-size:12px;letter-spacing:-0.550px;word-spacing:0.550px;" fill="#3c4044">1 K</text>
<text x="38.40" y="311.40" style="font-family:'Liberation Sans',sans-serif;font-size:12px;" fill="#3c4044">0</text>
<text x="23.60" y="340.40" style="font-family:'Liberation Sans',sans-serif;font-size:12px;letter-spacing:0.075px;word-spacing:-0.075px;" fill="#3c4044">-1 K</text>
<text x="35.28" y="378.90" style="font-family:'Liberation Sans',sans-serif;font-size:12px;letter-spacing:0.235px;" fill="#3c4044">10/01</text>
<text x="88.73" y="378.90" style="font-family:'Liberation Sans',sans-serif;font-size:12px;letter-spacing:0.748px;" fill="#3c4044">10/04</text>
<text x="143.78" y="378.90" style="font-family:'Liberation Sans',sans-serif;font-size:12px;letter-spacing:0.585px;" fill="#3c4044">10/07</text>
<text x="199.08" y="378.90" style="font-family:'Liberation Sans',sans-serif;font-size:12px;letter-spacing:0.235px;" fill="#3c4044">10/10</text>
<text x="253.71" y="378.90" style="font-family:'Liberation Sans',sans-serif;font-size:12px;letter-spacing:0.218px;" fill="#3c4044">10/13</text>
<text x="308.31" y="378.90" style="font-family:'Liberation Sans',sans-serif;font-size:12px;letter-spacing:0.218px;" fill="#3c4044">10/16</text>
<text x="362.92" y="378.90" style="font-family:'Liberation Sans',sans-serif;font-size:12px;letter-spacing:0.218px;" fill="#3c4044">10/19</text>
<text x="416.66" y="378.90" style="font-family:'Liberation Sans',sans-serif;font-size:12px;letter-spacing:0.643px;" fill="#3c4044">10/22</text>
<text x="471.26" y="378.90" style="font-family:'Liberation Sans',sans-serif;font-size:12px;letter-spacing:0.643px;" fill="#3c4044">10/25</text>
<text x="525.77" y="378.90" style="font-family:'Liberation Sans',sans-serif;font-size:12px;letter-spacing:0.693px;" fill="#3c4044">10/28</text>
<text x="581.32" y="378.90" style="font-family:'Liberation Sans',sans-serif;font-size:12px;letter-spacing:0.218px;" fill="#3c4044">10/31</text>
<text x="658.40" y="265.40" style="font-family:'Liberation Sans',sans-serif;font-size:12px;letter-spacing:0.800px;word-spacing:-0.800px;" fill="#3c4044">30 K</text>
<text x="657.90" y="280.40" style="font-family:'Liberation Sans',sans-serif;font-size:12px;letter-spacing:1.050px;word-spacing:-1.050px;" fill="#3c4044">20 K</text>
<text x="659.80" y="295.40" style="font-family:'Liberation Sans',sans-serif;font-size:12px;letter-spacing:0.100px;word-spacing:-0.100px;" fill="#3c4044">10 K</text>
<text x="677.20" y="311.40" style="font-family:'Liberation Sans',sans-serif;font-size:12px;" fill="#3c4044">0</text>
<text x="654.90" y="326.40" style="font-family:'Liberation Sans',sans-serif;font-size:12px;letter-spacing:0.367px;word-spacing:-0.367px;" fill="#3c4044">-10 K</text>
<text x="653.00" y="341.40" style="font-family:'Liberation Sans',sans-serif;font-size:12px;letter-spacing:1.000px;word-spacing:-1.000px;" fill="#3c4044">-20 K</text>
<text x="653.00" y="356.40" style="font-family:'Liberation Sans',sans-serif;font-size:12px;letter-spacing:1.000px;word-spacing:-1.000px;" fill="#3c4044">-30 K</text>
<text x="673.73" y="378.90" style="font-family:'Liberation Sans',sans-serif;font-size:12px;letter-spacing:0.635px;" fill="#3c4044">09/01</text>
<text x="727.98" y="378.90" style="font-family:'Liberation Sans',sans-serif;font-size:12px;letter-spacing:1.148px;" fill="#3c4044">09/04</text>
<text x="783.83" y="378.90" style="font-family:'Liberation Sans',sans-serif;font-size:12px;letter-spacing:0.985px;" fill="#3c4044">09/07</text>
<text x="839.93" y="378.90" style="font-family:'Liberation Sans',sans-serif;font-size:12px;letter-spacing:0.635px;" fill="#3c4044">09/10</text>
<text x="895.37" y="378.90" style="font-family:'Liberation Sans',sans-serif;font-size:12px;letter-spacing:0.618px;" fill="#3c4044">09/13</text>
<text x="950.76" y="378.90" style="font-family:'Liberation Sans',sans-serif;font-size:12px;letter-spacing:0.618px;" fill="#3c4044">09/16</text>
<text x="1006.16" y="378.90" style="font-family:'Liberation Sans',sans-serif;font-size:12px;letter-spacing:0.618px;" fill="#3c4044">09/19</text>
<text x="1060.71" y="378.90" style="font-family:'Liberation Sans',sans-serif;font-size:12px;letter-spacing:1.043px;" fill="#3c4044">09/22</text>
<text x="1116.12" y="378.90" style="font-family:'Liberation Sans',sans-serif;font-size:12px;letter-spacing:1.043px;" fill="#3c4044">09/25</text>
<text x="1171.41" y="378.90" style="font-family:'Liberation Sans',sans-serif;font-size:12px;letter-spacing:1.093px;" fill="#3c4044">09/28</text>
<text x="1289.05" y="270.40" style="font-family:'Liberation Sans',sans-serif;font-size:12px;letter-spacing:0.725px;word-spacing:-0.725px;" fill="#3c4044">40 K</text>
<text x="1288.80" y="290.40" style="font-family:'Liberation Sans',sans-serif;font-size:12px;letter-spacing:0.850px;word-spacing:-0.850px;" fill="#3c4044">20 K</text>
<text x="1307.90" y="311.40" style="font-family:'Liberation Sans',sans-serif;font-size:12px;" fill="#3c4044">0</text>
<text x="1284.20" y="331.40" style="font-family:'Liberation Sans',sans-serif;font-size:12px;letter-spacing:0.767px;word-spacing:-0.767px;" fill="#3c4044">-20 K</text>
<text x="1284.20" y="351.40" style="font-family:'Liberation Sans',sans-serif;font-size:12px;letter-spacing:0.767px;word-spacing:-0.767px;" fill="#3c4044">-40 K</text>
<text x="1304.73" y="378.90" style="font-family:'Liberation Sans',sans-serif;font-size:12px;letter-spacing:0.635px;" fill="#3c4044">08/01</text>
<text x="1357.18" y="378.90" style="font-family:'Liberation Sans',sans-serif;font-size:12px;letter-spacing:1.148px;" fill="#3c4044">08/04</text>
<text x="1411.23" y="378.90" style="font-family:'Liberation Sans',sans-serif;font-size:12px;letter-spacing:0.985px;" fill="#3c4044">08/07</text>
<text x="1465.53" y="378.90" style="font-family:'Liberation Sans',sans-serif;font-size:12px;letter-spacing:0.635px;" fill="#3c4044">08/10</text>
<text x="1519.17" y="378.90" style="font-family:'Liberation Sans',sans-serif;font-size:12px;letter-spacing:0.618px;" fill="#3c4044">08/13</text>
<text x="1572.77" y="378.90" style="font-family:'Liberation Sans',sans-serif;font-size:12px;letter-spacing:0.618px;" fill="#3c4044">08/16</text>
<text x="1626.37" y="378.90" style="font-family:'Liberation Sans',sans-serif;font-size:12px;letter-spacing:0.618px;" fill="#3c4044">08/19</text>
<text x="1679.12" y="378.90" style="font-family:'Liberation Sans',sans-serif;font-size:12px;letter-spacing:1.043px;" fill="#3c4044">08/22</text>
<text x="1732.71" y="378.90" style="font-family:'Liberation Sans',sans-serif;font-size:12px;letter-spacing:1.043px;" fill="#3c4044">08/25</text>
<text x="1786.22" y="378.90" style="font-family:'Liberation Sans',sans-serif;font-size:12px;letter-spacing:1.093px;" fill="#3c4044">08/28</text>
<text x="1840.77" y="378.90" style="font-family:'Liberation Sans',sans-serif;font-size:12px;letter-spacing:0.618px;" fill="#3c4044">08/31</text>
</svg>
</body></html>
